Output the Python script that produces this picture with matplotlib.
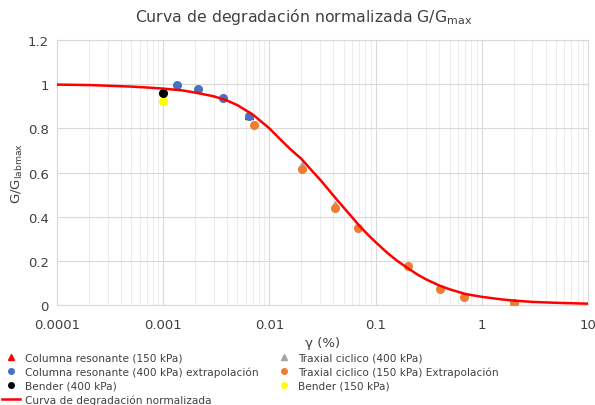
import matplotlib
matplotlib.use("Agg")
import matplotlib.pyplot as plt
from matplotlib.lines import Line2D
import numpy as np

# ---- data ----
cr150_x = [0.0064]
cr150_y = [0.862]
cr400_x = [0.00135, 0.00213, 0.00366, 0.0064]
cr400_y = [0.995, 0.978, 0.937, 0.858]
b400_x = [0.001]
b400_y = [0.960]
tc400_x = [0.0203, 0.0415]
tc400_y = [0.630, 0.452]
tc150_x = [0.00716, 0.0203, 0.0415, 0.0683, 0.2018, 0.403, 0.68, 2.01]
tc150_y = [0.815, 0.616, 0.440, 0.349, 0.177, 0.072, 0.036, 0.010]
b150_x = [0.001]
b150_y = [0.924]
curve_x = [0.0001, 0.0002, 0.0003, 0.0005, 0.0007, 0.001, 0.0015, 0.002, 0.003, 0.004, 0.005,
           0.007, 0.01, 0.013, 0.016, 0.02, 0.025, 0.03, 0.035, 0.04, 0.05, 0.06, 0.07, 0.085,
           0.1, 0.13, 0.16, 0.2, 0.25, 0.3, 0.4, 0.5, 0.7, 1.0, 1.5, 2.0, 3.0, 5.0, 10.0]
curve_y = [0.998, 0.996, 0.993, 0.989, 0.985, 0.980, 0.972, 0.962, 0.945, 0.926, 0.905,
           0.862, 0.800, 0.745, 0.703, 0.662, 0.610, 0.568, 0.530, 0.496, 0.442, 0.398, 0.360, 0.318,
           0.285, 0.235, 0.200, 0.168, 0.137, 0.116, 0.088, 0.071, 0.050, 0.037, 0.026, 0.020, 0.014, 0.010, 0.006]

x_ticks = [0.0001, 0.001, 0.01, 0.1, 1, 10]
x_tick_labels = ["0.0001", "0.001", "0.01", "0.1", "1", "10"]
y_ticks = [0, 0.2, 0.4, 0.6, 0.8, 1.0, 1.2]
y_tick_labels = ["0", "0.2", "0.4", "0.6", "0.8", "1", "1.2"]

plt.rcParams['font.family'] = ['DejaVu Sans']

fig = plt.figure(figsize=(5.95, 4.06), dpi=100)
ax = fig.add_axes([0.0958, 0.2463, 0.8922, 0.6527])

ax.set_xscale('log')
ax.set_xlim(0.0001, 10)
ax.set_ylim(0, 1.2)

ax.grid(True, which='major', color='#D9D9D9', linewidth=0.8)
ax.grid(True, which='minor', axis='x', color='#EDEDED', linewidth=0.8)
ax.set_axisbelow(True)
for s in ax.spines.values():
    s.set_color('#D9D9D9')
    s.set_linewidth(0.8)
ax.tick_params(which='both', length=0, labelsize=9.5, colors='#404040', pad=6)
ax.tick_params(axis='x', pad=9)
ax.set_xticks(x_ticks)
ax.set_xticklabels(x_tick_labels)
ax.set_yticks(y_ticks)
ax.set_yticklabels(y_tick_labels)

ms = 5.5
h1, = ax.plot(cr150_x, cr150_y, '^', color='#FF0000', ms=ms, ls='none', zorder=3)
h2, = ax.plot(cr400_x, cr400_y, 'o', color='#4472C4', ms=ms, ls='none', zorder=4)
h5, = ax.plot(b150_x, b150_y, 'o', color='#FFFF00', ms=ms, ls='none', zorder=4)
h3, = ax.plot(b400_x, b400_y, 'o', color='#000000', ms=ms, ls='none', zorder=5)
h4, = ax.plot(tc400_x, tc400_y, '^', color='#A5A5A5', ms=ms, ls='none', zorder=3)
h6, = ax.plot(tc150_x, tc150_y, 'o', color='#ED7D31', ms=ms, ls='none', zorder=4)
hc, = ax.plot(curve_x, curve_y, '-', color='#FF0000', lw=1.8, zorder=6)

fig.text(0.51, 0.958, 'Curva de degradación normalizada G/G$_{\\mathregular{max}}$',
         fontsize=11.3, color='#404040', ha='center', va='center')
ax.set_xlabel('γ (%)', fontsize=9.5, color='#404040', labelpad=4)
ax.set_ylabel('G/G$_{\\mathregular{labmax}}$', fontsize=9.5, color='#404040', labelpad=2)

leg_handles = [
    Line2D([], [], marker='^', color='#FF0000', ls='none', ms=4),
    Line2D([], [], marker='o', color='#4472C4', ls='none', ms=4),
    Line2D([], [], marker='o', color='#000000', ls='none', ms=4),
    Line2D([], [], color='#FF0000', lw=1.8),
    Line2D([], [], marker='^', color='#A5A5A5', ls='none', ms=4),
    Line2D([], [], marker='o', color='#ED7D31', ls='none', ms=4),
    Line2D([], [], marker='o', color='#FFFF00', ls='none', ms=4),
]
leg_labels = [
    'Columna resonante (150 kPa)',
    'Columna resonante (400 kPa) extrapolación',
    'Bender (400 kPa)',
    'Curva de degradación normalizada',
    'Traxial ciclico (400 kPa)',
    'Traxial ciclico (150 kPa) Extrapolación',
    'Bender (150 kPa)',
]
leg = fig.legend(leg_handles, leg_labels, ncol=2, loc='upper left',
                 bbox_to_anchor=(0.0, 0.135), frameon=False, fontsize=7.6,
                 handlelength=1.7, handletextpad=0.45, labelspacing=0.36,
                 columnspacing=1.6, borderaxespad=0, borderpad=0.2)
for t in leg.get_texts():
    t.set_color('#404040')

fig.savefig('out.png', dpi=100)
